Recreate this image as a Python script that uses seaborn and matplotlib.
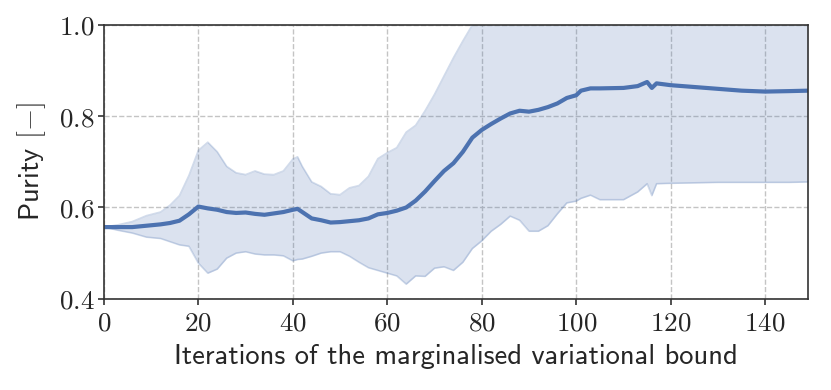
import matplotlib
matplotlib.use("Agg")
import matplotlib.pyplot as plt
import seaborn as sns
import numpy as np
from matplotlib.ticker import StrMethodFormatter, MultipleLocator

iterations = [0, 3, 6, 9, 12, 14, 16, 18, 20, 22, 24, 26, 28, 30, 32, 34, 36, 38, 40, 41,
              42, 44, 46, 48, 50, 52, 54, 56, 58, 60, 62, 64, 66, 68, 70, 72, 74, 76, 78, 80,
              82, 84, 86, 88, 90, 92, 94, 96, 98, 100, 101, 103, 105, 110, 113, 115, 116, 117, 120, 125,
              130, 135, 140, 145, 149]

purity_mean = [0.557, 0.557, 0.557, 0.560, 0.563, 0.566, 0.571, 0.585, 0.602, 0.598,
               0.595, 0.590, 0.588, 0.589, 0.586, 0.584, 0.587, 0.590, 0.595, 0.597,
               0.590, 0.576, 0.572, 0.567, 0.568, 0.570, 0.572, 0.576, 0.585, 0.588,
               0.593, 0.600, 0.615, 0.635, 0.658, 0.680, 0.697, 0.722, 0.753, 0.770,
               0.783, 0.795, 0.806, 0.812, 0.810, 0.814, 0.820, 0.828, 0.840, 0.846,
               0.856, 0.861, 0.861, 0.862, 0.866, 0.875, 0.862, 0.872, 0.868, 0.864,
               0.860, 0.856, 0.854, 0.855, 0.856]

purity_upper = [0.557, 0.562, 0.569, 0.582, 0.590, 0.605, 0.626, 0.670, 0.725, 0.743,
                0.722, 0.690, 0.676, 0.672, 0.680, 0.673, 0.672, 0.680, 0.706, 0.711,
                0.690, 0.656, 0.646, 0.630, 0.628, 0.643, 0.648, 0.668, 0.707, 0.720,
                0.731, 0.765, 0.780, 0.812, 0.848, 0.888, 0.928, 0.965, 1.000, 1.030,
                1.050, 1.070, 1.080, 1.090, 1.100, 1.100, 1.110, 1.120, 1.120, 1.130,
                1.130, 1.130, 1.130, 1.130, 1.130, 1.140, 1.130, 1.140, 1.140, 1.130,
                1.130, 1.130, 1.130, 1.130, 1.130]

purity_lower = [0.557, 0.550, 0.544, 0.535, 0.532, 0.525, 0.518, 0.515, 0.478, 0.456,
                0.465, 0.489, 0.500, 0.503, 0.498, 0.496, 0.496, 0.494, 0.483, 0.486,
                0.487, 0.493, 0.500, 0.503, 0.503, 0.493, 0.480, 0.468, 0.462, 0.456,
                0.450, 0.432, 0.450, 0.449, 0.467, 0.470, 0.462, 0.480, 0.510, 0.527,
                0.548, 0.563, 0.581, 0.572, 0.548, 0.548, 0.560, 0.586, 0.610, 0.614,
                0.620, 0.627, 0.617, 0.617, 0.634, 0.652, 0.626, 0.652, 0.653, 0.654,
                0.655, 0.655, 0.655, 0.655, 0.656]

sns.set_style("whitegrid", {"grid.linestyle": "--", "grid.color": "#c4c4c4",
                            "axes.edgecolor": "#333333", "xtick.bottom": True,
                            "ytick.left": True})
plt.rcParams["font.family"] = ["cmss10", "DejaVu Sans"]
plt.rcParams["mathtext.fontset"] = "cm"
plt.rcParams["axes.unicode_minus"] = False

blue = "#4C72B0"

fig = plt.figure(figsize=(8.31, 3.90), dpi=100)
ax = fig.add_axes([0.125, 0.234, 0.847, 0.702])

ax.fill_between(iterations, purity_lower, purity_upper, color=blue, alpha=0.2, linewidth=0)
ax.plot(iterations, purity_upper, color=blue, alpha=0.25, linewidth=1.2)
ax.plot(iterations, purity_lower, color=blue, alpha=0.25, linewidth=1.2)
sns.lineplot(x=iterations, y=purity_mean, color=blue, linewidth=3.0, ax=ax)

ax.set_xlim(0, 149)
ax.set_ylim(0.4, 1.0)
ax.xaxis.set_major_locator(MultipleLocator(20))
ax.yaxis.set_major_locator(MultipleLocator(0.2))
ax.xaxis.set_major_formatter(StrMethodFormatter(r"${x:.0f}$"))
ax.yaxis.set_major_formatter(StrMethodFormatter(r"${x:.1f}$"))
ax.tick_params(axis="both", labelsize=19.5, length=4.5, width=1.2, color="#333333",
               direction="out")
ax.tick_params(axis="x", pad=4)
ax.tick_params(axis="y", pad=2)
ax.grid(True, linestyle="--", color="#c4c4c4", linewidth=1.0)
for s in ax.spines.values():
    s.set_linewidth(1.2)
    s.set_color("#333333")

ax.set_xlabel("Iterations of the marginalised variational bound", fontsize=20.5, labelpad=6)
ax.set_ylabel(r"Purity $[-]$", fontsize=20.5, labelpad=8)

fig.savefig("out.png", dpi=100)
